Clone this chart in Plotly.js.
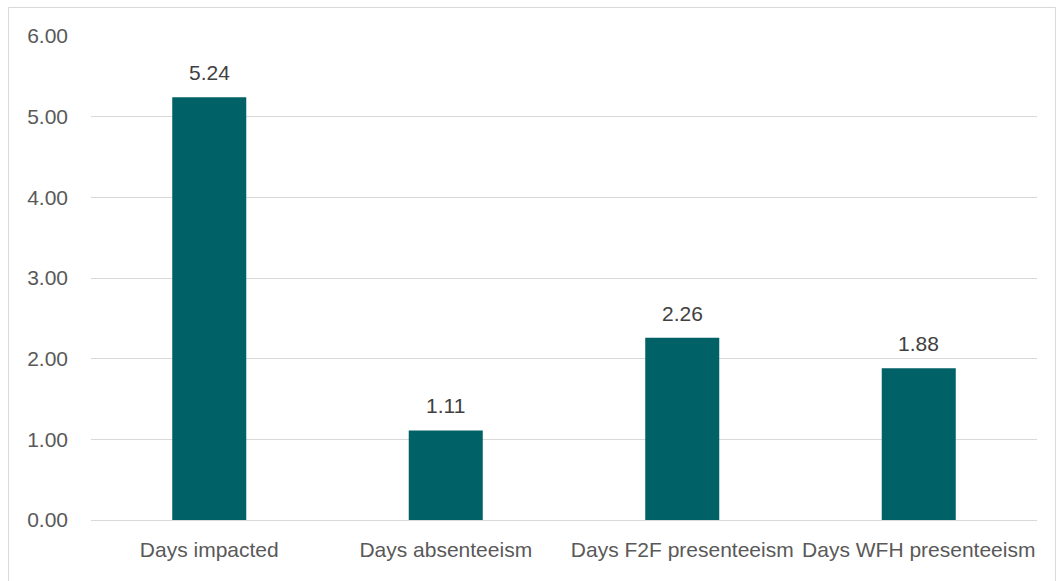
<!DOCTYPE html>
<html>
<head>
<meta charset="utf-8">
<script src="https://cdn.plot.ly/plotly-3.0.1.min.js"></script>
<style>
  html, body { margin: 0; padding: 0; background: #ffffff; }
  #chart { width: 1060px; height: 581px; }
</style>
</head>
<body>
<div id="chart"></div>
<script>
// Average days per employee, by kind of impact
const categories = ["Days impacted", "Days absenteeism", "Days F2F presenteeism", "Days WFH presenteeism"];
const values = [5.24, 1.11, 2.26, 1.88];
const yTicks = [0, 1, 2, 3, 4, 5, 6];
const yTickLabels = ["0.00", "1.00", "2.00", "3.00", "4.00", "5.00", "6.00"];

const barColor = "#006166";
const fontFamily = "Liberation Sans, Arial, sans-serif";
const fontSize = 21;

const trace = {
  type: "bar",
  x: categories,
  y: values,
  width: 0.313,
  marker: { color: barColor, line: { width: 0 } },
  hoverinfo: "x+y"
};

// value labels sitting above each bar
const labels = categories.map((c, i) => ({
  x: c,
  y: values[i],
  xref: "x",
  yref: "y",
  text: values[i].toFixed(2),
  showarrow: false,
  yanchor: "bottom",
  yshift: 11,
  font: { family: fontFamily, size: fontSize, color: "#404040" }
}));

const layout = {
  width: 1060,
  height: 581,
  margin: { l: 91, r: 23, t: 36, b: 61 },
  paper_bgcolor: "#ffffff",
  plot_bgcolor: "#ffffff",
  showlegend: false,
  font: { family: fontFamily, size: fontSize, color: "#595959" },
  xaxis: {
    type: "category",
    showgrid: false,
    showline: true,
    linecolor: "#d9d9d9",
    linewidth: 1,
    ticks: "",
    ticklabelstandoff: 11,
    tickfont: { family: fontFamily, size: fontSize, color: "#595959" },
    fixedrange: true
  },
  yaxis: {
    range: [0, 6],
    tickvals: yTicks,
    ticktext: yTickLabels,
    showgrid: true,
    gridcolor: "#d9d9d9",
    gridwidth: 1,
    zeroline: false,
    showline: false,
    ticks: "",
    ticklabelstandoff: 22,
    tickfont: { family: fontFamily, size: fontSize, color: "#595959" },
    fixedrange: true
  },
  annotations: labels,
  shapes: [{
    type: "rect",
    xref: "paper",
    yref: "paper",
    x0: -0.0872, x1: 1.0196,
    y0: -0.16, y1: 1.0589,
    line: { color: "#d9d9d9", width: 1 },
    fillcolor: "rgba(0,0,0,0)",
    layer: "below"
  }]
};

Plotly.newPlot("chart", [trace], layout, { displayModeBar: false, staticPlot: true });
</script>
</body>
</html>
